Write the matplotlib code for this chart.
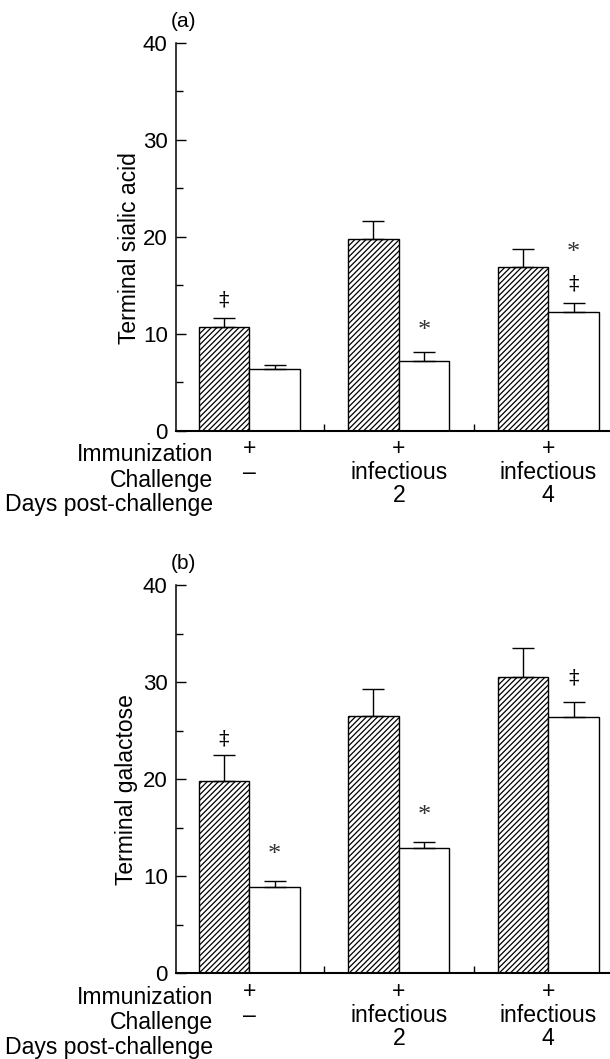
import matplotlib
matplotlib.use('Agg')
import matplotlib.pyplot as plt
import matplotlib.transforms as mtransforms
import numpy as np

plt.rcParams['font.family'] = ['Liberation Sans', 'DejaVu Sans']
plt.rcParams['hatch.linewidth'] = 0.9

# data
row_labels = ['Immunization', 'Challenge', 'Days post-challenge']
immunization = ['+', '+', '+']
challenge = ['\u2013', 'infectious', 'infectious']
days = ['', '2', '4']

sialic_hatched = [10.7, 19.8, 16.9]
sialic_hatched_err = [0.95, 1.8, 1.8]
sialic_open = [6.4, 7.2, 12.2]
sialic_open_err = [0.35, 0.9, 0.95]
sialic_marks = [(0, 'hatched', '\u2021', 13.5), (1, 'open', '*', 10.9),
                (2, 'open', '*', 19.0), (2, 'open', '\u2021', 15.2)]

galactose_hatched = [19.8, 26.5, 30.5]
galactose_hatched_err = [2.7, 2.75, 3.0]
galactose_open = [8.9, 12.9, 26.4]
galactose_open_err = [0.6, 0.65, 1.5]
galactose_marks = [(0, 'hatched', '\u2021', 24.2), (0, 'open', '*', 12.9),
                   (1, 'open', '*', 16.9), (2, 'open', '\u2021', 30.5)]

W, H = 610, 1059
fig = plt.figure(figsize=(W / 100, H / 100), dpi=100)


def rect(left, right, top, bottom):
    return [left / W, 1 - bottom / H, (right - left) / W, (bottom - top) / H]


ax_a = fig.add_axes(rect(176, 610, 42.7, 430.7))
ax_b = fig.add_axes(rect(176, 610, 585, 973.3))


def draw_panel(ax, hatched, hatched_err, opened, opened_err, marks, ylabel, letter, ylab_x):
    x = np.arange(len(hatched))
    w = 0.339
    ax.bar(x - w / 2, hatched, w, facecolor='white', edgecolor='black',
           hatch='//////', linewidth=1.0, zorder=2)
    ax.bar(x + w / 2, opened, w, facecolor='white', edgecolor='black',
           linewidth=1.0, zorder=2)
    zeros = np.zeros(len(x))
    ax.errorbar(x - w / 2, hatched, yerr=[zeros, hatched_err], fmt='none',
                ecolor='black', elinewidth=1.0, capsize=8, capthick=1.0, zorder=3)
    ax.errorbar(x + w / 2, opened, yerr=[zeros, opened_err], fmt='none',
                ecolor='black', elinewidth=1.0, capsize=8, capthick=1.0, zorder=3)

    # significance symbols
    for g, series, sym, y in marks:
        xs = g - w / 2 if series == 'hatched' else g + w / 2
        drop = 9.0 if sym == '*' else 4.5
        tr = mtransforms.offset_copy(ax.transData, fig=fig, x=0, y=-drop, units='points')
        ax.text(xs, y, sym, transform=tr, ha='center', va='baseline',
                fontsize=19 if sym == '*' else 15,
                color='#333333' if sym == '*' else 'black',
                family=['DejaVu Serif'] if sym == '\u2021' else ['Liberation Serif', 'DejaVu Serif'])

    ax.set_xlim(-0.49, 2.413)
    ax.set_ylim(0, 40)
    ax.spines['top'].set_visible(False)
    ax.spines['right'].set_visible(False)
    ax.spines['left'].set_linewidth(1.1)
    ax.spines['bottom'].set_linewidth(1.5)
    ax.set_yticks([0, 10, 20, 30, 40])
    ax.set_yticks([5, 15, 25, 35], minor=True)
    ax.tick_params(axis='y', which='major', direction='in', length=7, width=1.0,
                   labelsize=16, pad=6)
    ax.tick_params(axis='y', which='minor', direction='in', length=5, width=1.0)
    ax.set_xticks([0.5, 1.5])
    ax.set_xticklabels([])
    ax.tick_params(axis='x', direction='in', length=5, width=1.0)

    ax.set_ylabel(ylabel, fontsize=16.5, va='center')
    ax.yaxis.set_label_coords(ylab_x, 0.472)
    ax.text(-0.0115, 1.055, letter, transform=ax.transAxes, fontsize=15,
            ha='left', va='center')

    # condition table under the axis
    axh = ax.get_position().height * H
    trans = ax.get_xaxis_transform()
    label_off = [30.3, 56, 80.3]
    value_off = [24.7, 48.3, 71.6]
    for i, lab in enumerate(row_labels):
        ax.text(-0.243, -label_off[i] / axh, lab, transform=trans, fontsize=16.6,
                ha='right', va='baseline')
    for i, row in enumerate([immunization, challenge, days]):
        for g, val in enumerate(row):
            ax.text(g, -value_off[i] / axh, val, transform=trans, fontsize=16.6,
                    ha='center', va='baseline')


draw_panel(ax_a, sialic_hatched, sialic_hatched_err, sialic_open, sialic_open_err,
           sialic_marks, 'Terminal sialic acid', '(a)', -0.106)
draw_panel(ax_b, galactose_hatched, galactose_hatched_err, galactose_open,
           galactose_open_err, galactose_marks, 'Terminal galactose', '(b)', -0.114)

fig.savefig('out.png', dpi=100)
